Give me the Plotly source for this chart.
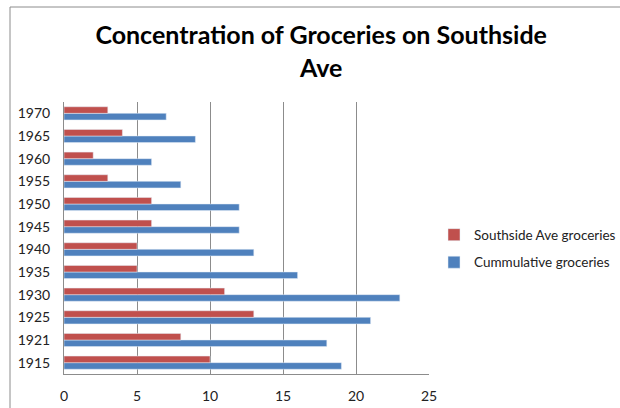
import plotly.graph_objects as go

years = ["1915", "1921", "1925", "1930", "1935", "1940", "1945", "1950", "1955", "1960", "1965", "1970"]
southside = [10, 8, 13, 11, 5, 5, 6, 6, 3, 2, 4, 3]
cumulative = [19, 18, 21, 23, 16, 13, 12, 12, 8, 6, 9, 7]
x_ticks = [0, 5, 10, 15, 20, 25]

fig = go.Figure()
fig.add_trace(go.Bar(y=years, x=cumulative, orientation="h", name="Cummulative groceries",
                     marker=dict(color="#4F81BD"), legendrank=2, legendgroup="b"))
fig.add_trace(go.Bar(y=years, x=southside, orientation="h", name="Southside Ave groceries",
                     marker=dict(color="#C0504D"), legendrank=1, legendgroup="a"))

fig.update_layout(
    width=620, height=408,
    margin=dict(l=64, r=191, t=102, b=34, autoexpand=False),
    paper_bgcolor="white", plot_bgcolor="white",
    font=dict(family="Lato", size=14, color="#222222"),
    barmode="group", bargap=0.42, bargroupgap=0,
    title=dict(text="<b>Concentration of Groceries on Southside<br>Ave</b>",
               x=0.518, xanchor="center", y=0.892, yanchor="middle",
               font=dict(family="Lato", size=25, color="black")),
    legend=dict(x=1 + 5/365, xref="paper", y=0.46, xanchor="left", yanchor="middle",
                font=dict(size=13.5), itemwidth=30, tracegroupgap=7),
    showlegend=True,
)
fig.update_xaxes(range=[0, 25], tickvals=x_ticks, showgrid=True, gridcolor="#8C8C8C",
                 gridwidth=1, showline=True, linecolor="#8C8C8C", zeroline=False,
                 ticks="", ticklabelstandoff=9, fixedrange=True, automargin=False)
fig.update_yaxes(type="category", categoryorder="array", categoryarray=years,
                 showline=True, linecolor="#8C8C8C", showgrid=False, ticks="",
                 ticklabelstandoff=10, automargin=False)
fig.add_shape(type="rect", xref="paper", yref="paper",
              x0=-54/365, x1=700/365, y0=-100/272, y1=1 + 95/272,
              line=dict(color="#8C8C8C", width=1))
fig.write_html("out.html")
